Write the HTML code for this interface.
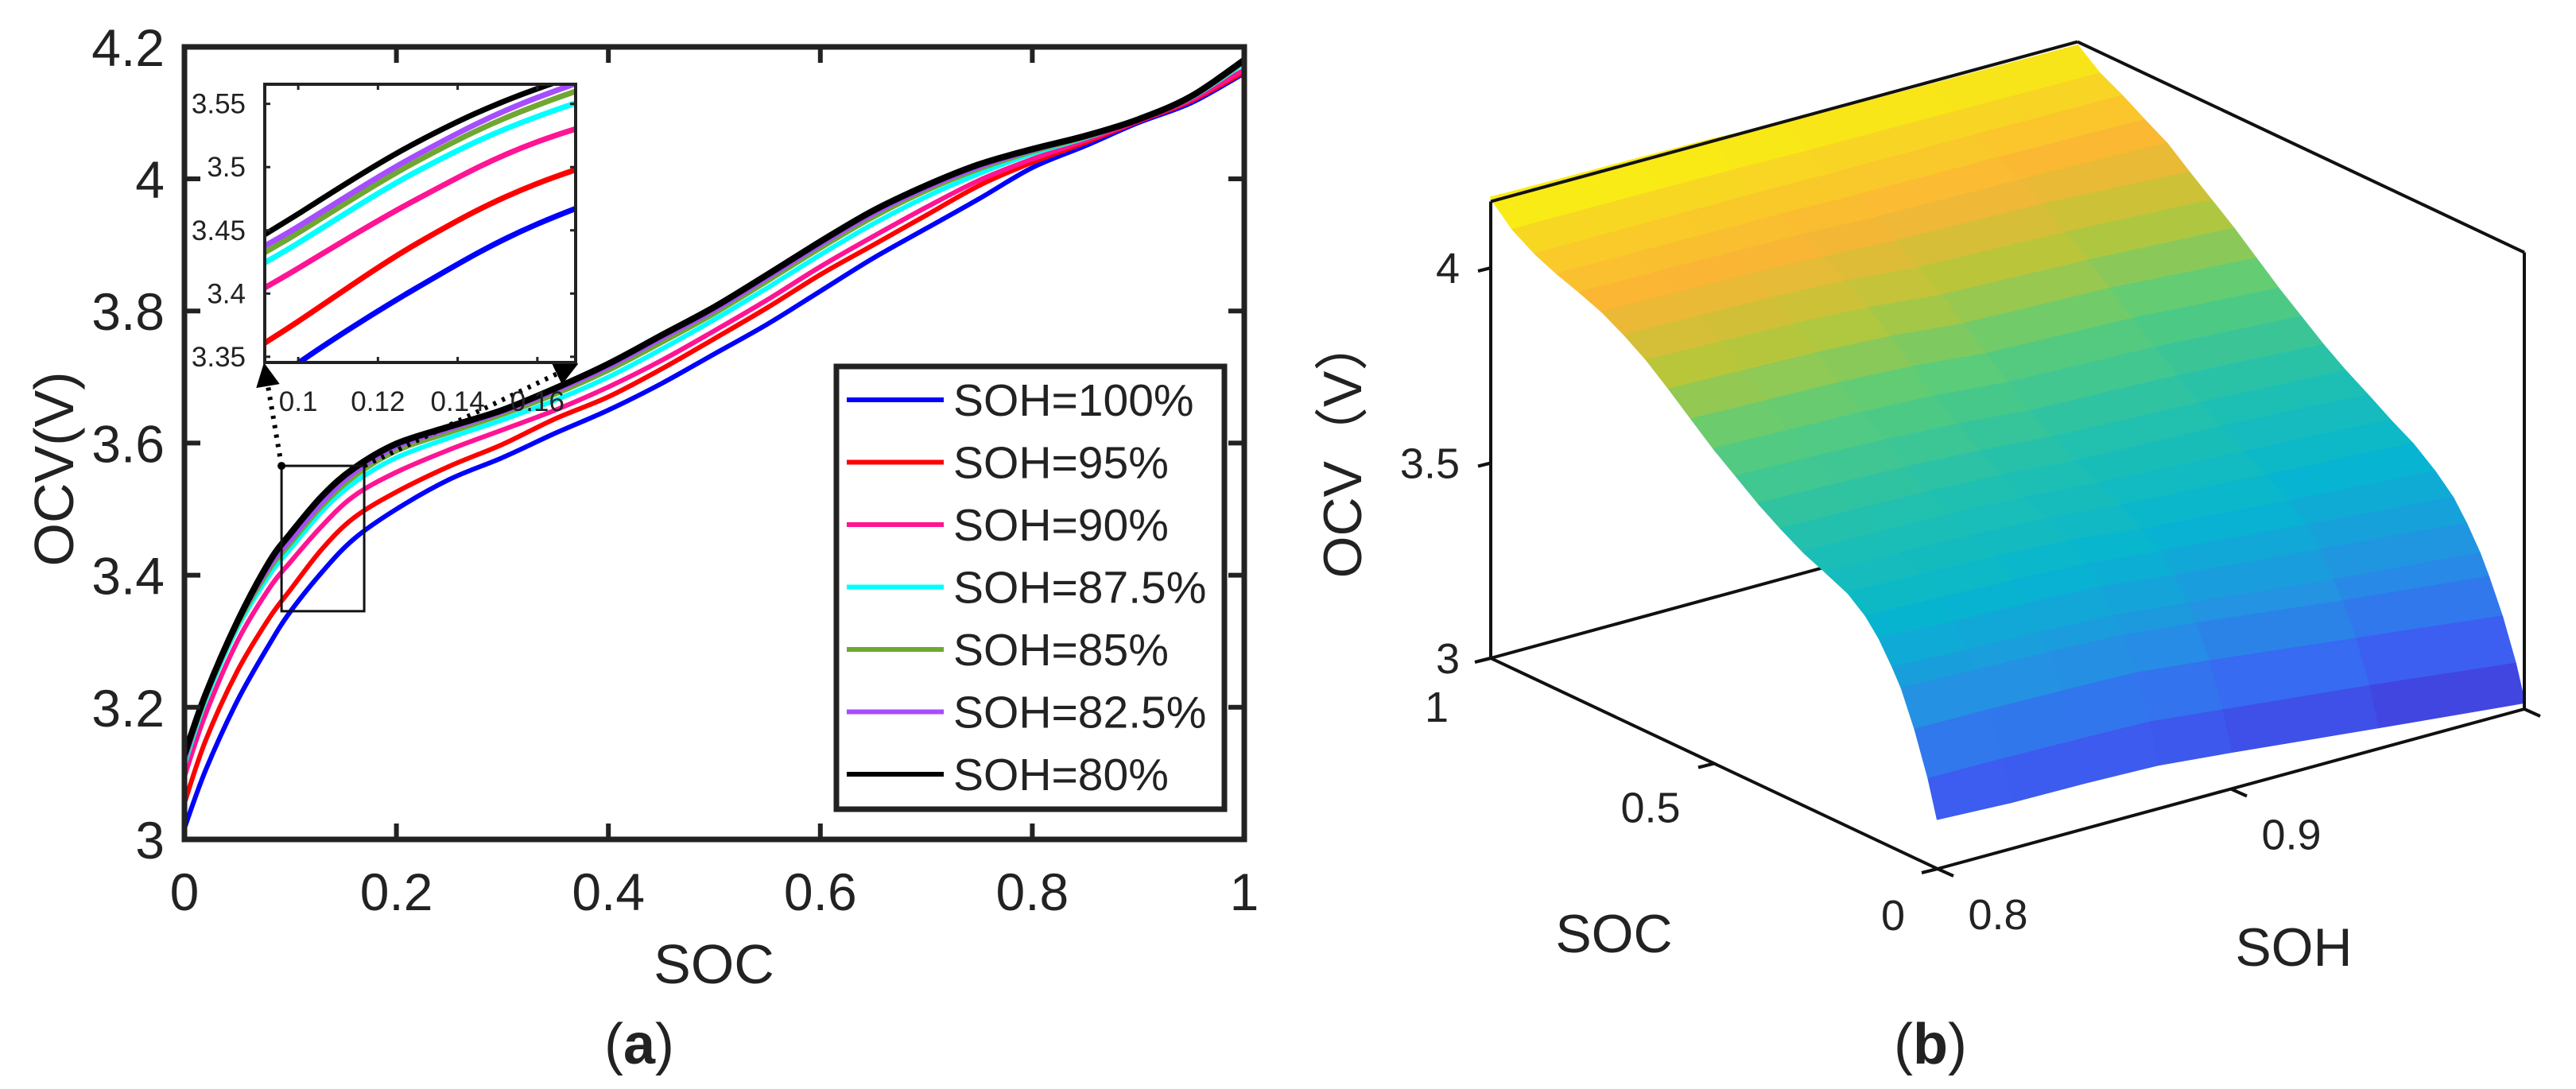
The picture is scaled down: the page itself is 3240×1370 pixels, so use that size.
<!DOCTYPE html>
<html><head><meta charset="utf-8"><style>
html,body{margin:0;padding:0;background:#fff;}
svg{display:block;}
text{font-family:"Liberation Sans","Noto Sans CJK SC",sans-serif;fill:#222;}
</style></head><body>
<svg id="fig" width="3240" height="1370" viewBox="0 0 3240 1370" xmlns="http://www.w3.org/2000/svg">
<defs>
<clipPath id="clipMain"><rect x="232" y="59" width="1333" height="997"/></clipPath>
<clipPath id="clipInset"><rect x="333" y="106" width="391" height="350"/></clipPath>
<marker id="arr" viewBox="0 0 10 10" refX="8" refY="5" markerWidth="5" markerHeight="5" orient="auto"><path d="M0,0 L10,5 L0,10 z" fill="#000"/></marker>
</defs>
<g id="panelA"></g>
<g id="panelB"></g>
</svg>
<script>
const soc = [0,0.02,0.05,0.08,0.1,0.13,0.16,0.2,0.25,0.3,0.35,0.4,0.45,0.5,0.55,0.6,0.65,0.7,0.75,0.8,0.85,0.9,0.95,1.0];
const seriesNames = ["SOH=100%","SOH=95%","SOH=90%","SOH=87.5%","SOH=85%","SOH=82.5%","SOH=80%"];
const sohValues = [1.0,0.95,0.9,0.875,0.85,0.825,0.8];
const seriesColors = ["#0000ff","#ff0000","#ff1493","#00ffff","#6ea832","#a64dff","#000000"];
const ocv100 = [3.017,3.105,3.21,3.295,3.345,3.405,3.455,3.50,3.545,3.578,3.615,3.65,3.69,3.735,3.78,3.83,3.88,3.925,3.97,4.017,4.05,4.085,4.115,4.16];
const ocv95 = [3.055,3.15,3.255,3.335,3.378,3.44,3.487,3.526,3.565,3.598,3.637,3.67,3.712,3.758,3.805,3.855,3.90,3.945,3.99,4.025,4.055,4.087,4.118,4.162];
const ocv90 = [3.095,3.19,3.30,3.38,3.42,3.475,3.52,3.556,3.59,3.62,3.65,3.685,3.725,3.77,3.817,3.867,3.913,3.957,3.998,4.03,4.058,4.088,4.12,4.165];
const ocv875 = [3.113,3.21,3.32,3.40,3.44,3.497,3.54,3.578,3.608,3.635,3.665,3.70,3.742,3.787,3.835,3.885,3.932,3.973,4.008,4.038,4.062,4.09,4.123,4.175];
const ocv85 = [3.118,3.215,3.325,3.408,3.448,3.505,3.549,3.588,3.616,3.643,3.674,3.71,3.752,3.796,3.845,3.895,3.942,3.982,4.015,4.041,4.063,4.09,4.124,4.177];
const ocv825 = [3.12,3.218,3.328,3.413,3.453,3.51,3.555,3.594,3.621,3.647,3.679,3.715,3.758,3.801,3.85,3.90,3.947,3.986,4.018,4.043,4.064,4.09,4.125,4.178];
const ocv80 = [3.128,3.22,3.33,3.42,3.463,3.52,3.562,3.599,3.625,3.65,3.683,3.72,3.763,3.806,3.855,3.905,3.952,3.99,4.022,4.045,4.065,4.09,4.125,4.18];
const allSeries = [ocv100,ocv95,ocv90,ocv875,ocv85,ocv825,ocv80];
const xTicks = [0,0.2,0.4,0.6,0.8,1];
const xTickLabels = ["0","0.2","0.4","0.6","0.8","1"];
const yTicks = [3,3.2,3.4,3.6,3.8,4,4.2];
const yTickLabels = ["3","3.2","3.4","3.6","3.8","4","4.2"];
const insetXTicks = [0.1,0.12,0.14,0.16];
const insetXLabels = ["0.1","0.12","0.14","0.16"];
const insetYTicks = [3.35,3.4,3.45,3.5,3.55];
const insetYLabels = ["3.35","3.4","3.45","3.5","3.55"];
const insetRange = [0.0916,0.1696,3.3455,3.5655];
const bVTicks = [3,3.5,4];
const bVLabels = ["3","3.5","4"];
const bSocTicks = [0,0.5,1];
const bSocLabels = ["0","0.5","1"];
const bSohTicks = [0.8,0.9,1.0];
const bSohLabels = ["0.8","0.9",""];

const NS="http://www.w3.org/2000/svg";
function mk(tag, attrs, parent){const e=document.createElementNS(NS,tag);for(const k in attrs)e.setAttribute(k,attrs[k]);parent.appendChild(e);return e;}
function smooth(pts){let d="M"+pts[0][0].toFixed(1)+","+pts[0][1].toFixed(1);
 for(let i=0;i<pts.length-1;i++){const p0=pts[Math.max(0,i-1)],p1=pts[i],p2=pts[i+1],p3=pts[Math.min(pts.length-1,i+2)];
  const c1=[p1[0]+(p2[0]-p0[0])/6,p1[1]+(p2[1]-p0[1])/6],c2=[p2[0]-(p3[0]-p1[0])/6,p2[1]-(p3[1]-p1[1])/6];
  d+=" C"+c1[0].toFixed(1)+","+c1[1].toFixed(1)+" "+c2[0].toFixed(1)+","+c2[1].toFixed(1)+" "+p2[0].toFixed(1)+","+p2[1].toFixed(1);}
 return d;}

/* ---------- Panel A ---------- */
const A=document.getElementById('panelA');
const X=s=>232+s*1333, Y=v=>1056-(v-3)*831;
const gc=mk('g',{'clip-path':'url(#clipMain)'},A);


allSeries.forEach((ser,i)=>{const p=mk('path',{d:smooth(soc.map((s,j)=>[X(s),Y(ser[j])])),fill:'none',stroke:seriesColors[i],'stroke-width':i==6?8:6},gc);
 
 });
const fr=mk('rect',{x:232,y:59,width:1333,height:997,fill:'none',stroke:'#222','stroke-width':7},A);


xTicks.forEach((t,i)=>{
 if(t>0&&t<1){mk('line',{x1:X(t),x2:X(t),y1:1056,y2:1036,stroke:'#222','stroke-width':6},A);mk('line',{x1:X(t),x2:X(t),y1:59,y2:79,stroke:'#222','stroke-width':6},A);}
 const tx=mk('text',{x:X(t),y:1145,'font-size':66,'text-anchor':'middle'},A);tx.textContent=xTickLabels[i];
 
 });
yTicks.forEach((t,i)=>{
 if(t>3&&t<4.2){mk('line',{x1:232,x2:252,y1:Y(t),y2:Y(t),stroke:'#222','stroke-width':6},A);mk('line',{x1:1565,x2:1545,y1:Y(t),y2:Y(t),stroke:'#222','stroke-width':6},A);}
 const tx=mk('text',{x:207,y:Y(t)+24,'font-size':66,'text-anchor':'end'},A);tx.textContent=yTickLabels[i];
 
 });
let t1=mk('text',{x:898,y:1237,'font-size':70,'text-anchor':'middle'},A);t1.textContent='SOC';


let t2=mk('text',{x:0,y:0,'font-size':70,'text-anchor':'middle',transform:'translate(92,590) rotate(-90)'},A);t2.textContent='OCV(V)';


let t3=mk('text',{x:804,y:1338,'font-size':72,'text-anchor':'middle','font-family':'Liberation Serif, serif'},A);
t3.innerHTML='(<tspan font-weight="bold">a</tspan>)';



const ir=insetRange;
const zr=mk('rect',{x:X(ir[0]),y:Y(ir[3]),width:X(ir[1])-X(ir[0]),height:Y(ir[2])-Y(ir[3]),fill:'none',stroke:'#111','stroke-width':3},A);


const a1=mk('line',{x1:X(ir[0]),y1:Y(ir[3]),x2:333,y2:462,stroke:'#000','stroke-width':6,'stroke-dasharray':'4 8','marker-end':'url(#arr)'},A);


const a2=mk('line',{x1:X(ir[1]),y1:Y(ir[3]),x2:722,y2:460,stroke:'#000','stroke-width':6,'stroke-dasharray':'4 8','marker-end':'url(#arr)'},A);


mk('circle',{cx:X(ir[0]),cy:Y(ir[3]),r:5,fill:'#000'},A);

const ISX=s=>333+(s-ir[0])/(ir[1]-ir[0])*391, ISY=v=>456-(v-ir[2])/(ir[3]-ir[2])*350;
const gi=mk('g',{},A);


mk('rect',{x:333,y:106,width:391,height:350,fill:'#fff',stroke:'none'},gi);
const gic=mk('g',{'clip-path':'url(#clipInset)'},gi);
allSeries.forEach((ser,i)=>{const p=mk('path',{d:smooth(soc.map((s,j)=>[ISX(s),ISY(ser[j])])),fill:'none',stroke:seriesColors[i],'stroke-width':7},gic);
 
 });
mk('rect',{x:333,y:106,width:391,height:350,fill:'none',stroke:'#222','stroke-width':4},gi);
insetXTicks.forEach((t,i)=>{mk('line',{x1:ISX(t),x2:ISX(t),y1:456,y2:449,stroke:'#222','stroke-width':3},gi);mk('line',{x1:ISX(t),x2:ISX(t),y1:106,y2:113,stroke:'#222','stroke-width':3},gi);
 const tx=mk('text',{x:ISX(t),y:517,'font-size':35,'text-anchor':'middle',fill:'#333'},gi);tx.textContent=insetXLabels[i];
 
 });
insetYTicks.forEach((t,i)=>{mk('line',{x1:333,x2:340,y1:ISY(t),y2:ISY(t),stroke:'#222','stroke-width':3},gi);mk('line',{x1:724,x2:717,y1:ISY(t),y2:ISY(t),stroke:'#222','stroke-width':3},gi);
 const tx=mk('text',{x:309,y:ISY(t)+12,'font-size':35,'text-anchor':'end',fill:'#333'},gi);tx.textContent=insetYLabels[i];
 
 });

const gl=mk('g',{},A);


mk('rect',{x:1052,y:461,width:488,height:557,fill:'#fff',stroke:'#222','stroke-width':7},gl);
seriesNames.forEach((n,i)=>{const y=503+i*78.5;
 const ln=mk('line',{x1:1065,x2:1187,y1:y,y2:y,stroke:seriesColors[i],'stroke-width':6},gl);
 
 
 const tx=mk('text',{x:1199,y:y+20,'font-size':57,fill:'#111'},gl);tx.textContent=n;
 
 });

/* ---------- Panel B ---------- */
const B=document.getElementById('panelB');
const P=(s,h,v)=>[1875+(1-s)*562+(h-0.8)/0.2*738, 828+(1-s)*265-(h-0.8)/0.2*201-(v-3)*491];
const vTop=4.17;
const stops=[[0,[69,53,213]],[0.15,[59,98,244]],[0.3,[37,144,227]],[0.45,[6,181,208]],[0.55,[32,192,176]],[0.68,[92,204,120]],[0.78,[184,198,58]],[0.87,[251,181,53]],[0.94,[248,216,34]],[1,[249,248,12]]];
function cmap(v){let t=(v-3.017)/(4.18-3.017);t=Math.max(0,Math.min(1,t));
 for(let i=0;i<stops.length-1;i++){if(t<=stops[i+1][0]){const f=(t-stops[i][0])/(stops[i+1][0]-stops[i][0]);const a=stops[i][1],b=stops[i+1][1];
  return 'rgb('+a.map((c,k)=>Math.round(c+(b[k]-c)*f)).join(',')+')';}}return 'rgb(249,248,12)';}
const L=(p,q,attrs)=>mk('line',Object.assign({x1:p[0],y1:p[1],x2:q[0],y2:q[1],stroke:'#111','stroke-width':4},attrs||{}),B);
let bl=L(P(1,0.8,3),P(1,1,3));


const gs=mk('g',{},B);


for(let j=soc.length-2;j>=0;j--){
 for(let i=0;i<sohValues.length-1;i++){
  const a=P(soc[j],sohValues[i],allSeries[i][j]),b=P(soc[j+1],sohValues[i],allSeries[i][j+1]),c=P(soc[j+1],sohValues[i+1],allSeries[i+1][j+1]),d=P(soc[j],sohValues[i+1],allSeries[i+1][j]);
  const vm=(allSeries[i][j]+allSeries[i][j+1]+allSeries[i+1][j]+allSeries[i+1][j+1])/4;
  const col=cmap(vm);
  const q=mk('polygon',{points:[a,b,c,d].map(p=>p[0].toFixed(1)+','+p[1].toFixed(1)).join(' '),fill:col,stroke:col,'stroke-width':2.5,'stroke-linejoin':'round'},gs);
  
  
 }}
[[P(1,0.8,3),P(1,0.8,vTop),'ocv-axis'],[P(1,0.8,vTop),P(1,1,vTop),'top-back-edge'],[P(1,1,vTop),P(0,1,vTop),'top-right-edge'],[P(0,1,vTop),P(0,1,3),'right-vertical-edge'],[P(1,0.8,3),P(0,0.8,3),'soc-axis'],[P(0,0.8,3),P(0,1,3),'soh-axis']].forEach(e=>{
 const l=L(e[0],e[1]);});
bVTicks.forEach((t,i)=>{const p=P(1,0.8,t);L(p,[p[0]-16,p[1]+4]);
 const tx=mk('text',{x:1836,y:p[1]+19,'font-size':54,'text-anchor':'end'},B);tx.textContent=bVLabels[i];
 
 });
bSocTicks.forEach((t,i)=>{const p=P(t,0.8,3);L(p,[p[0]-20,p[1]+5]);
 const pos=t==1?[1822,908]:(t==0?[2381,1170]:[p[0]-80,p[1]+74]);
 const tx=mk('text',{x:pos[0],y:pos[1],'font-size':54,'text-anchor':t==1?'end':'middle'},B);tx.textContent=bSocLabels[i];
 
 });
bSohTicks.forEach((t,i)=>{const p=P(0,t,3);L(p,[p[0]+20,p[1]+9]);
 if(bSohLabels[i]){const tx=mk('text',{x:p[0]+76,y:p[1]+76,'font-size':54,'text-anchor':'middle'},B);tx.textContent=bSohLabels[i];
 
 }});
let b1=mk('text',{x:2030,y:1198,'font-size':68,'text-anchor':'middle'},B);b1.textContent='SOC';


let b2=mk('text',{x:2885,y:1215,'font-size':68,'text-anchor':'middle'},B);b2.textContent='SOH';


let b3=mk('text',{x:0,y:0,'font-size':68,'text-anchor':'middle',transform:'translate(1712,563) rotate(-90)'},B);b3.textContent='OCV（V）';


let b4=mk('text',{x:2428,y:1338,'font-size':72,'text-anchor':'middle','font-family':'Liberation Serif, serif'},B);
b4.innerHTML='(<tspan font-weight="bold">b</tspan>)';


</script>
</body></html>
